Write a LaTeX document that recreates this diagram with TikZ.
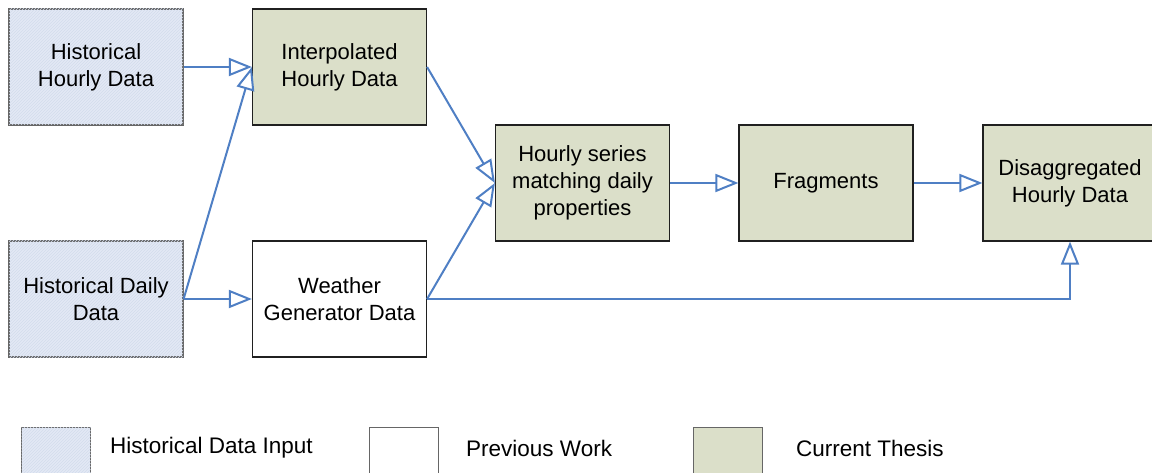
\documentclass[tikz,border=0pt]{standalone}
\usepackage{fontspec}
\setmainfont{Liberation Sans}
\usetikzlibrary{arrows.meta,patterns}
\definecolor{histfill}{HTML}{E3E9F5}
\definecolor{histhatch}{HTML}{D3DCEC}
\definecolor{thesisfill}{HTML}{DBDFC9}
\definecolor{arrowblue}{HTML}{4F7FC4}
\definecolor{boxedge}{HTML}{202020}
\tikzset{
  x=1pt, y=-1pt,
  box/.style={draw=boxedge, line width=1.2pt, minimum width=174pt, minimum height=116pt,
    align=center, inner sep=0pt, font=\fontsize{22}{27}\selectfont},
  histbox/.style={box, fill=histfill, postaction={pattern=north east lines, pattern color=histhatch}, draw=black!60},
  prevbox/.style={box, fill=white},
  thesisbox/.style={box, fill=thesisfill},
  legbox/.style={draw=black!60, line width=1.2pt, minimum width=69pt, minimum height=60pt, inner sep=0pt, anchor=north west},
  legtext/.style={anchor=west, font=\fontsize{22.5}{26}\selectfont, inner sep=0pt},
  flow/.style={draw=arrowblue, line width=2pt, -{Triangle[open, length=23pt, width=18pt, line width=2pt]}},
}
\begin{document}
\begin{tikzpicture}
\useasboundingbox (0,0) rectangle (1152,473);
\begin{scope}
\clip (0,0) rectangle (1152,473);
\node[histbox] (hh) at (96,67) {Historical\\Hourly Data};
\node[thesisbox] (ih) at (339.5,67) {Interpolated\\Hourly Data};
\node[histbox] (hd) at (96,299) {Historical Daily\\Data};
\node[prevbox] (wg) at (339.5,299) {Weather\\Generator Data};
\node[thesisbox] (hs) at (582.5,183) {Hourly series\\matching daily\\properties};
\node[thesisbox] (fr) at (826,183) {Fragments};
\node[thesisbox] (dh) at (1070,183) {Disaggregated\\Hourly Data};

\coordinate (wgb) at (1070,299);
\draw[flow] (hh.east) -- (ih.west);
\draw[flow] (hd.east) -- (ih.west);
\draw[flow] (hd.east) -- (wg.west);
\draw[flow] (ih.east) -- (hs.west);
\draw[flow] (wg.east) -- (hs.west);
\draw[flow] (hs.east) -- (fr.west);
\draw[flow] (fr.east) -- (dh.west);
\draw[flow] (wg.east) -- (wgb) -- (dh.south);

\node[legbox, fill=histfill, postaction={pattern=north east lines, pattern color=histhatch}] (l1) at (21,427) {};
\node[legtext] (t1) at (110,448) {Historical Data Input};
\node[legbox, fill=white] (l2) at (369,427) {};
\node[legtext] (t2) at (466,448) {Previous Work};
\node[legbox, fill=thesisfill] (l3) at (693,427) {};
\node[legtext] (t3) at (796,448) {Current Thesis};
\end{scope}
\end{tikzpicture}
\end{document}
